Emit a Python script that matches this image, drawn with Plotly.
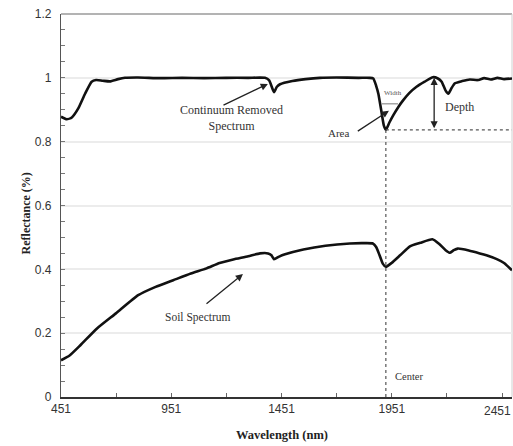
import plotly.graph_objects as go

# Wavelength (nm) and reflectance of the continuum-removed spectrum
cr_wavelength = [451, 477, 500, 530, 560, 590, 610, 640, 673, 710, 741, 800, 900, 1000,
                 1100, 1200, 1300, 1376, 1395, 1417, 1430, 1444, 1500, 1560, 1625, 1700,
                 1800, 1850, 1867, 1880, 1890, 1905, 1915, 1924, 1940, 1958, 1980, 2003,
                 2030, 2063, 2100, 2137, 2160, 2177, 2195, 2207, 2222, 2237, 2270, 2305,
                 2340, 2370, 2400, 2430, 2460, 2496]
cr_reflectance = [0.878, 0.870, 0.876, 0.905, 0.950, 0.988, 0.993, 0.991, 0.989, 0.996,
                  1.000, 1.001, 0.999, 1.000, 0.999, 1.000, 1.000, 1.000, 0.992, 0.955,
                  0.972, 0.980, 0.990, 0.996, 1.000, 1.001, 1.000, 1.000, 0.998, 0.975,
                  0.950, 0.890, 0.850, 0.837, 0.860, 0.883, 0.908, 0.930, 0.952, 0.972,
                  0.988, 1.002, 0.998, 0.988, 0.960, 0.950, 0.968, 0.983, 0.990, 0.995,
                  0.993, 0.999, 0.995, 1.000, 0.996, 0.998]

# Wavelength (nm) and reflectance of the soil spectrum
soil_wavelength = [451, 490, 540, 613, 700, 801, 880, 960, 1040, 1111, 1170, 1232, 1300,
                   1353, 1390, 1405, 1417, 1440, 1467, 1550, 1650, 1761, 1820, 1865, 1880,
                   1895, 1910, 1924, 1950, 1990, 2033, 2080, 2135, 2165, 2195, 2214, 2232,
                   2250, 2300, 2350, 2380, 2427, 2460, 2496]
soil_reflectance = [0.115, 0.130, 0.163, 0.214, 0.262, 0.319, 0.345, 0.366, 0.387, 0.403,
                    0.420, 0.431, 0.441, 0.450, 0.450, 0.444, 0.432, 0.440, 0.447, 0.462,
                    0.474, 0.481, 0.482, 0.481, 0.470, 0.445, 0.418, 0.408, 0.420, 0.445,
                    0.472, 0.483, 0.494, 0.480, 0.460, 0.452, 0.460, 0.465, 0.459, 0.450,
                    0.444, 0.432, 0.420, 0.397]

# X tick positions and their labels
x_tickvals = [451, 951, 1451, 1951, 2451]
x_ticktext = ["451", "951", "1451", "1951", "2451"]

# Absorption feature parameters
feature_center = 1924
feature_minimum = 0.837
feature_shoulder = 1.0
depth_wavelength = 2143
width_left, width_right = 1906, 1979

x_range = [451, 2496]
y_range = [0, 1.2]

serif = "Liberation Serif, Times New Roman, serif"
sans = "Liberation Sans, Arial, sans-serif"

fig = go.Figure()
fig.add_trace(go.Scatter(x=cr_wavelength, y=cr_reflectance, mode="lines",
                         line=dict(color="#111111", width=2.6, shape="spline", smoothing=0.5),
                         showlegend=False, hoverinfo="skip"))
fig.add_trace(go.Scatter(x=soil_wavelength, y=soil_reflectance, mode="lines",
                         line=dict(color="#111111", width=2.6, shape="spline", smoothing=0.5),
                         showlegend=False, hoverinfo="skip"))

shapes = [
    # top and right frame
    dict(type="line", xref="paper", yref="paper", x0=0, x1=1, y0=1, y1=1,
         line=dict(color="#9a9a9a", width=1.5), layer="below"),
    dict(type="line", xref="paper", yref="paper", x0=1, x1=1, y0=0, y1=1,
         line=dict(color="#d0d0d0", width=1), layer="below"),
    # center line
    dict(type="line", xref="x", yref="y", x0=feature_center, x1=feature_center,
         y0=0, y1=feature_minimum, line=dict(color="#555555", width=1.2, dash="dot")),
    # baseline at the feature minimum
    dict(type="line", xref="x", yref="y", x0=feature_center, x1=x_range[1],
         y0=feature_minimum, y1=feature_minimum,
         line=dict(color="#555555", width=1.2, dash="dot")),
    # width marker at half depth
    dict(type="line", xref="x", yref="y", x0=width_left, x1=width_right,
         y0=(feature_shoulder + feature_minimum) / 2, y1=(feature_shoulder + feature_minimum) / 2,
         line=dict(color="#777777", width=1)),
]

label_font = dict(family=serif, size=12, color="#333333")
tick_font = dict(family=sans, size=12, color="#333333")

annotations = [
    # axis titles
    dict(text="<b>Reflectance (%)</b>", xref="paper", yref="paper", x=-0.077, y=0.48,
         textangle=-90, showarrow=False, xanchor="center", yanchor="middle",
         font=dict(family=serif, size=12, color="#222222")),
    dict(text="<b>Wavelength (nm)</b>", xref="paper", yref="paper", x=0.49, y=-0.1,
         showarrow=False, xanchor="center", yanchor="middle",
         font=dict(family=serif, size=12.5, color="#222222")),
    # last x tick label, kept inside the right edge
    dict(text=x_ticktext[-1], xref="paper", yref="paper", x=1.0, y=-0.037,
         showarrow=False, xanchor="right", yanchor="middle", xshift=1, font=tick_font),
    # continuum removed spectrum label
    dict(text="Continuum Removed<br>Spectrum", x=1225, y=0.875, xref="x", yref="y",
         showarrow=False, font=label_font),
    dict(x=1389, y=0.981, ax=1181, ay=0.912, xref="x", yref="y", axref="x", ayref="y",
         text="", showarrow=True, arrowhead=2, arrowsize=1.1, arrowwidth=1.3, arrowcolor="#222222"),
    # soil spectrum label
    dict(text="Soil Spectrum", x=1072, y=0.25, xref="x", yref="y", showarrow=False,
         font=dict(family=serif, size=11.5, color="#333333")),
    dict(x=1276, y=0.385, ax=1104, ay=0.288, xref="x", yref="y", axref="x", ayref="y",
         text="", showarrow=True, arrowhead=2, arrowsize=1.1, arrowwidth=1.3, arrowcolor="#222222"),
    # area label
    dict(text="Area", x=1707, y=0.827, xref="x", yref="y", showarrow=False,
         font=dict(family=serif, size=11, color="#333333")),
    dict(x=1938, y=0.897, ax=1790, ay=0.83, xref="x", yref="y", axref="x", ayref="y",
         text="", showarrow=True, arrowhead=2, arrowsize=1.1, arrowwidth=1.3, arrowcolor="#222222"),
    # width label
    dict(text="Width", x=1956, y=0.952, xref="x", yref="y", showarrow=False,
         font=dict(family=serif, size=7, color="#555555")),
    # depth arrow and label
    dict(x=depth_wavelength, y=feature_shoulder, ax=depth_wavelength, ay=feature_minimum,
         xref="x", yref="y", axref="x", ayref="y", text="", showarrow=True,
         arrowhead=2, startarrowhead=2, arrowside="end+start", arrowsize=1.1,
         arrowwidth=1.3, arrowcolor="#222222"),
    dict(text="Depth", x=2257, y=0.91, xref="x", yref="y", showarrow=False,
         font=dict(family=serif, size=12, color="#333333")),
    # center label
    dict(text="Center", x=2029, y=0.065, xref="x", yref="y", showarrow=False,
         font=dict(family=serif, size=10.5, color="#333333")),
]

fig.update_layout(
    width=513, height=446,
    margin=dict(l=61, r=1, t=14, b=49, autoexpand=False),
    paper_bgcolor="white", plot_bgcolor="white",
    shapes=shapes, annotations=annotations,
    xaxis=dict(range=x_range, tickmode="array", tickvals=x_tickvals,
               ticktext=x_ticktext[:-1] + [""],
               ticks="inside", ticklen=4,
               tickcolor="#666666", showgrid=False, zeroline=False,
               showline=True, linecolor="#333333", linewidth=1.5,
               automargin=False, tickfont=tick_font,
               minor=dict(tick0=451, dtick=250, ticks="inside", ticklen=4, tickcolor="#666666")),
    yaxis=dict(range=y_range, dtick=0.2, ticks="inside", ticklen=4,
               tickcolor="#777777", showgrid=True, gridcolor="#ececec", gridwidth=1.5,
               zeroline=False, showline=True, linecolor="#555555", linewidth=1.2,
               ticklabelstandoff=6, automargin=False, tickfont=tick_font,
               minor=dict(dtick=0.05, ticks="inside", ticklen=4, tickcolor="#777777")),
)

fig.write_html("out.html")
